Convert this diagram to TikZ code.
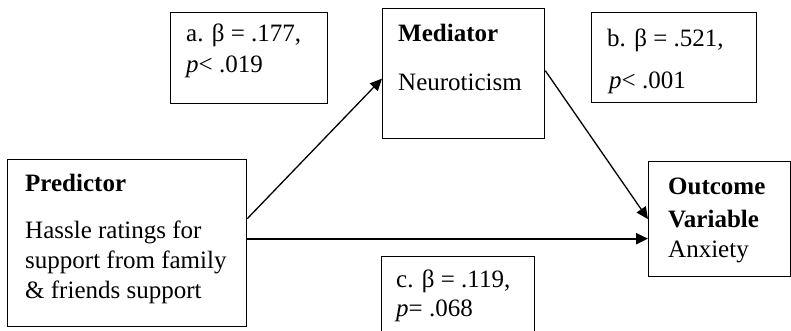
\documentclass[tikz,border=0pt]{standalone}
\usepackage{fontspec}
\setmainfont{Liberation Serif}
\usetikzlibrary{arrows.meta}

\tikzset{
  box/.style={draw, line width=1.3pt, anchor=north west, inner sep=0pt},
  lbl/.style={anchor=base west, inner sep=0pt, font=\fontsize{25}{30}\selectfont},
  link/.style={line width=1.3pt, -{Triangle[length=12pt, width=11pt]}},
}

\begin{document}
\begin{tikzpicture}[x=1pt, y=1pt]
      \useasboundingbox (0, 0) rectangle (791, 330);

      % boxes
      \node[box, minimum width=239pt, minimum height=167pt] (pred) at (7, 171) {};
      \node[box, minimum width=162pt, minimum height=130pt] (med) at (382, 322) {};
      \node[box, minimum width=142pt, minimum height=115pt] (out) at (648, 169) {};
      \node[box, minimum width=157pt, minimum height=91pt] (boxa) at (170, 318) {};
      \node[box, minimum width=165pt, minimum height=90pt] (boxb) at (591, 318) {};
      \node[box, minimum width=153pt, minimum height=85pt] (boxc) at (381, 74) {};

      % texts
      \node[lbl] (predhead) at (25, 139) {\textbf{Predictor}};
      \foreach \txt [count=\i] in {Hassle ratings for, support from family, \& friends support}
        \node[lbl] (pred\i) at (25, 122 - 30*\i) {\txt};

      \node[lbl] (medhead) at (398, 288) {\textbf{Mediator}};
      \node[lbl] (medtext) at (398, 240) {Neuroticism};

      \node[lbl] (outhead) at (668, 136) {\textbf{Outcome}};
      \node[lbl] (outvar) at (668, 103) {\textbf{Variable}};
      \node[lbl] (outtext) at (668, 73) {Anxiety};

      \node[lbl] (abeta) at (186, 288) {a. β = .177,};
      \node[lbl] (ap) at (186, 258) {\textit{p}< .019};

      \node[lbl] (bbeta) at (607, 283) {b. β = .521,};
      \node[lbl] (bp) at (609, 242) {\textit{p}< .001};

      \node[lbl] (cbeta) at (396, 43) {c. β = .119,};
      \node[lbl] (cp) at (396, 14) {\textit{p}= .068};

      % paths
      \draw[link] ([yshift=24.5pt]pred.east) -- ([yshift=-5pt]med.west);
      \draw[link] ([yshift=3pt]med.east) -- (out.west);
      \draw[link, line width=2.3pt] ([yshift=4.5pt]pred.east) -- ([yshift=4.5pt]pred.east -| out.west);
\end{tikzpicture}
\end{document}
